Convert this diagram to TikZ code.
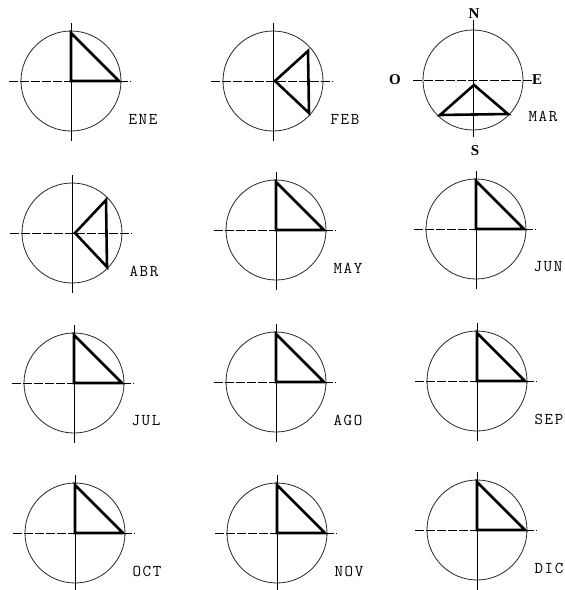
\documentclass[tikz,border=0pt]{standalone}
\usepackage{fontspec}
\newfontfamily\labfont{Latin Modern Mono}[LetterSpace=10]
\newfontfamily\dirfont{Liberation Serif}
\tikzset{
  ring/.style={line width=0.8pt, black!85},
  haxis/.style={line width=0.8pt, dash pattern=on 9pt off 2pt},
  vaxis/.style={line width=0.9pt},
  tri/.style={line width=2.6pt, line join=miter},
  monthlab/.style={font=\labfont\fontsize{16.5}{16.5}\selectfont, inner sep=0pt},
  dirlab/.style={font=\dirfont\bfseries\fontsize{15}{15}\selectfont, inner sep=0pt}
}
\newcommand\dialbase[3]{%
  \coordinate (c#3) at (#1,#2);
  \draw[ring] (c#3) circle (50);
  \draw[haxis] ([xshift=-62pt]c#3) -- ([xshift=60pt]c#3);
  \draw[vaxis] ([yshift=58pt]c#3) -- ([yshift=-60pt]c#3);
  \node[monthlab] (l#3) at ([xshift=72pt,yshift=-38pt]c#3) {#3};
}
\newcommand\stdtri[1]{%
  \draw[tri] ([yshift=48pt]c#1) -- (c#1) -- ([xshift=48pt]c#1) -- cycle;
}
\begin{document}
\begin{tikzpicture}[x=1pt,y=-1pt]
\useasboundingbox (0,0) rectangle (565,590);
% row 1
\dialbase{71}{81}{ENE}\stdtri{ENE}
\dialbase{273}{81}{FEB}
\draw[tri] ([xshift=2pt]cFEB) -- ([xshift=35pt,yshift=30pt]cFEB) -- ([xshift=36pt,yshift=-32pt]cFEB) -- cycle;
% MAR with compass
\coordinate (cMAR) at (473,80);
\draw[ring] (cMAR) circle (50);
\draw[haxis] ([xshift=-60pt]cMAR) -- ([xshift=59pt]cMAR);
\draw[vaxis] ([yshift=60pt]cMAR) -- ([yshift=-57pt]cMAR);
\node[monthlab] (lMAR) at ([xshift=70pt,yshift=-36pt]cMAR) {MAR};
\node[dirlab] (nN) at (474,14) {N};
\node[dirlab] (nS) at (475,151) {S};
\node[dirlab] (nO) at (395,80) {O};
\node[dirlab] (nE) at (537,80) {E};
\draw[tri] ([xshift=1pt,yshift=-5pt]cMAR) -- ([xshift=-33pt,yshift=-35pt]cMAR) -- ([xshift=35pt,yshift=-34pt]cMAR) -- cycle;
% row 2
\dialbase{72}{233}{ABR}
\draw[tri] ([xshift=3pt]cABR) -- ([xshift=34pt,yshift=33pt]cABR) -- ([xshift=35pt,yshift=-34pt]cABR) -- cycle;
\dialbase{276}{230}{MAY}\stdtri{MAY}
\dialbase{476}{229}{JUN}\stdtri{JUN}
% row 3
\dialbase{74}{383}{JUL}\stdtri{JUL}
\dialbase{276}{382}{AGO}\stdtri{AGO}
\dialbase{477}{381}{SEP}\stdtri{SEP}
% row 4
\dialbase{75}{533}{OCT}\stdtri{OCT}
\dialbase{277}{533}{NOV}\stdtri{NOV}
\dialbase{477}{530}{DIC}\stdtri{DIC}
\end{tikzpicture}
\end{document}
